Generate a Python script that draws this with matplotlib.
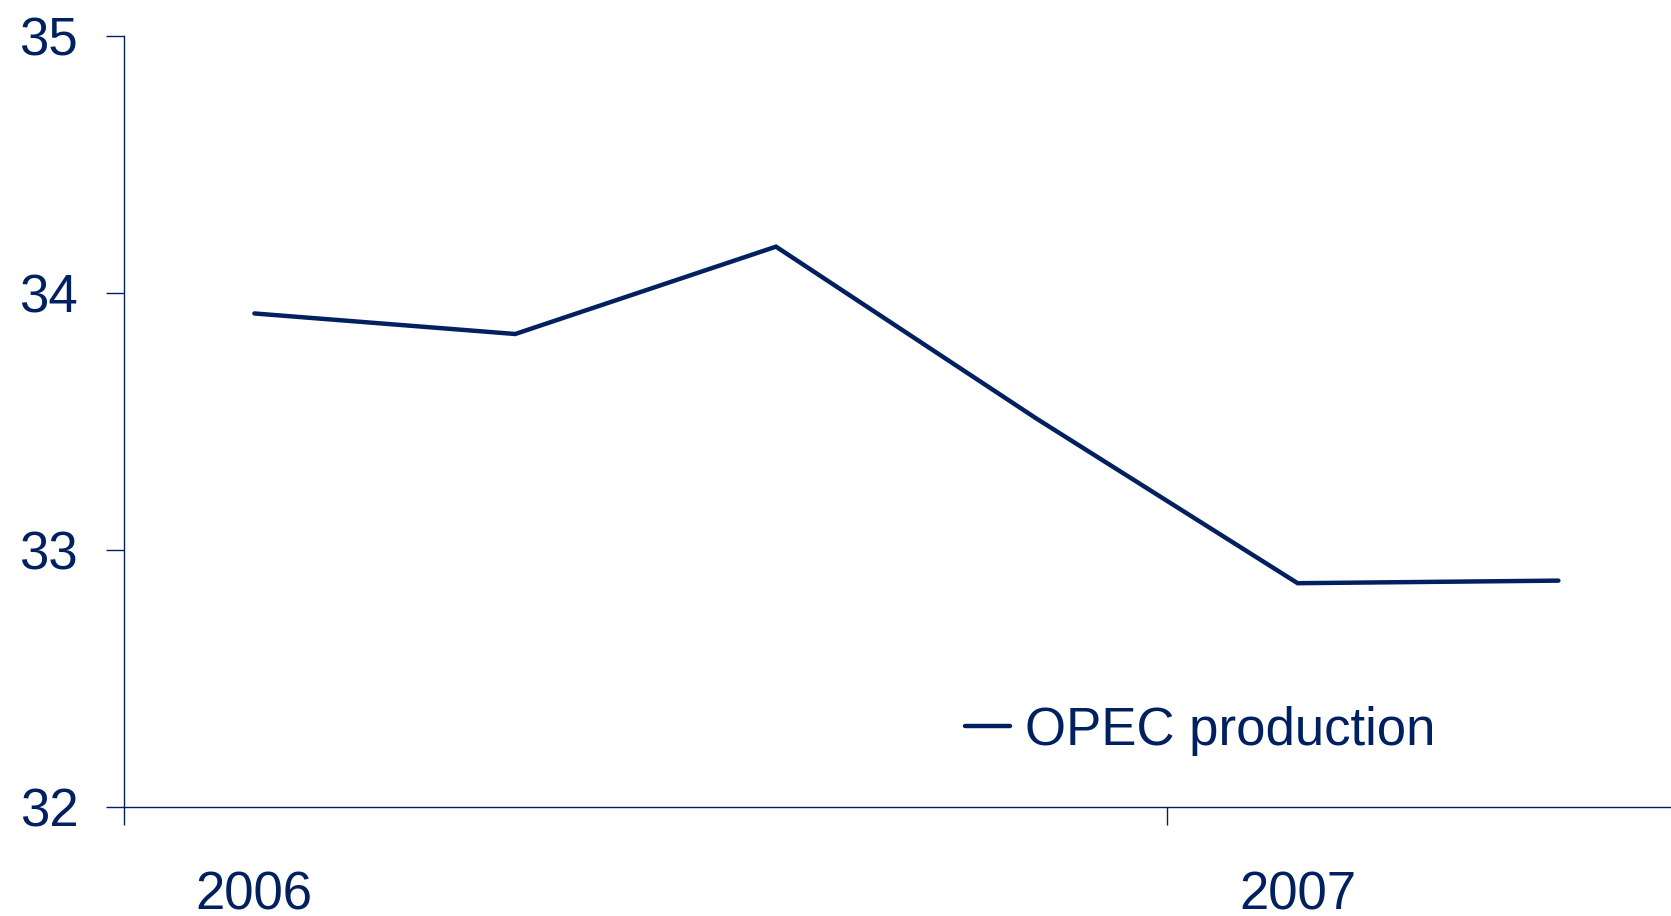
import matplotlib
matplotlib.use("Agg")
import matplotlib.pyplot as plt
import numpy as np

# Data (quarterly OPEC production)
quarters = ["2006 Q1", "2006 Q2", "2006 Q3", "2006 Q4", "2007 Q1", "2007 Q2"]
opec_production = [33.92, 33.84, 34.18, 33.51, 32.87, 32.88]
year_labels = ["2006", "2007"]
year_label_pos = [0.5, 4.5]
year_boundaries = [0, 4]
y_ticks = [32, 33, 34, 35]

navy = "#002060"
plt.rcParams["font.family"] = ["Liberation Sans", "DejaVu Sans"]

fig = plt.figure(figsize=(16.71, 9.16), dpi=100)
ax = fig.add_axes([124 / 1671, 1 - 806.7 / 916, 1 - 124 / 1671, (806.7 - 36) / 916])

x = np.arange(len(quarters)) + 0.5
ax.plot(x, opec_production, color=navy, linewidth=3.2, label="OPEC production",
        solid_capstyle="round", solid_joinstyle="miter")

ax.set_xlim(0, 1547 / 260.8)
ax.set_ylim(32, 35)

ax.set_yticks(y_ticks)
ax.set_yticklabels([str(v) for v in y_ticks])
ax.tick_params(axis="y", direction="out", length=13, width=1, color=navy,
               labelsize=38, labelcolor=navy, pad=20)

ax.set_xticks(year_boundaries)
ax.set_xticklabels([])
ax.tick_params(axis="x", which="major", direction="out", length=13, width=1, color=navy)
ax.set_xticks(year_label_pos, minor=True)
ax.set_xticklabels(year_labels, minor=True)
ax.tick_params(axis="x", which="minor", length=0, labelsize=38, labelcolor=navy, pad=46)

for s in ["top", "right"]:
    ax.spines[s].set_visible(False)
for s in ["left", "bottom"]:
    ax.spines[s].set_color(navy)
    ax.spines[s].set_linewidth(1)

leg = ax.legend(loc="center left", bbox_to_anchor=((965 - 124) / 1547, (806.7 - 730.5) / 770.7),
                frameon=False, fontsize=38, handlelength=0.85, handletextpad=0.28,
                borderpad=0, borderaxespad=0)
for t in leg.get_texts():
    t.set_color(navy)

fig.savefig("out.png", dpi=100)
